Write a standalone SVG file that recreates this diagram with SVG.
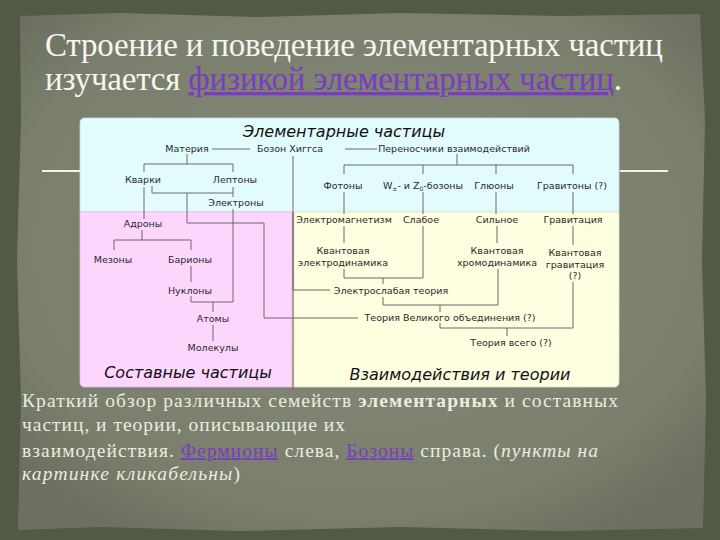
<svg xmlns="http://www.w3.org/2000/svg" width="720" height="540" viewBox="0 0 720 540">
<defs>
<radialGradient id="pg" cx="0.5" cy="0.45" r="0.65">
<stop offset="0" stop-color="#868a7a"/>
<stop offset="0.8" stop-color="#7a7e6d"/>
<stop offset="1" stop-color="#6c7060"/>
</radialGradient>
<style>
.t{font-family:"DejaVu Sans",sans-serif;font-size:9.5px;fill:#2a2a2a;text-anchor:middle}
.h{font-family:"DejaVu Sans",sans-serif;font-size:16px;font-style:italic;fill:#111;text-anchor:middle}
.ln{stroke:#6a6a6a;stroke-width:1;fill:none}
.ttl{font-family:"Liberation Serif",serif;font-size:33px;fill:#f6f6ee}
.cap{font-family:"Liberation Serif",serif;font-size:19.5px;fill:#ececdf}
.lk{fill:#7a3cc0;text-decoration:underline}
</style>
</defs>
<g id="background">
<rect x="0" y="0" width="720" height="540" fill="#525947"/>
<polygon points="20,16 120,13 260,17 400,13 560,16 700,14 705,120 702,260 706,400 703,528 560,531 400,527 240,531 100,527 18,530 21,400 17,260 21,120" fill="url(#pg)"/>
<line x1="42" y1="171" x2="80" y2="171" stroke="#f2f2e4" stroke-width="2"/>
<line x1="620" y1="171" x2="668" y2="171" stroke="#f2f2e4" stroke-width="2"/>
</g>
<g id="title">
<text class="ttl" x="45" y="56" textLength="618" lengthAdjust="spacing">Строение и поведение элементарных частиц</text>
<text class="ttl" x="45" y="90" textLength="577" lengthAdjust="spacing">изучается <tspan class="lk">физикой элементарных частиц</tspan>.</text>
</g>
<g id="regions">
<path d="M85,118 H614 Q619,118 619,123 V212 H80 V123 Q80,118 85,118 Z" fill="#e2fbfd" stroke="#c8dfe2" stroke-width="0.8"/>
<path d="M80,212 H292 V387 H85 Q80,387 80,382 Z" fill="#fdd6fd" stroke="#e3bde3" stroke-width="0.8"/>
<path d="M294,212 H619 V382 Q619,387 614,387 H294 Z" fill="#fefee0" stroke="#e2e2c4" stroke-width="0.8"/>
</g>
<g id="connectors">
<path class="ln" d="M212,149 H250 M345,149 H377"/>
<path class="ln" d="M187,154 V164 M144,172 V164 H233 V172"/>
<path class="ln" d="M144,187 V219 M152,186 V193 H233 M233,187 V197 M233,209 V302"/>
<path class="ln" d="M187,193 V223 H264 V318 H358"/>
<path class="ln" d="M293,156 V290 H330"/>
<path class="ln" d="M142,230 V240 M114,250 V240 H191 V250 M191,266 V282 M191,296 V302 H233 M213,302 V312 M213,325 V341"/>
<path class="ln" d="M457,154 V165 M344,174 V165 H573 V174 M423,165 V174 M496,165 V174"/>
<path class="ln" d="M344,192 V214 M423,192 V214 M496,192 V214 M573,192 V214"/>
<path class="ln" d="M344,226 V243 M344,269 V278 H423 V226 M383,278 V284"/>
<path class="ln" d="M497,226 V243 M573,226 V245"/>
<path class="ln" d="M383,297 V305 H498 V269 M440,305 V312"/>
<path class="ln" d="M573,282 V328 H440 V323 M507,328 V336"/>
</g>
<g id="headings">
<text class="h" x="344" y="137">Элементарные частицы</text>
<text class="h" x="188" y="378">Составные частицы</text>
<text class="h" x="460" y="380">Взаимодействия и теории</text>
</g>
<g id="n-materia"><text class="t" x="187" y="152">Материя</text></g>
<g id="n-higgs"><text class="t" x="290" y="152">Бозон Хиггса</text></g>
<g id="n-carriers"><text class="t" x="454" y="152">Переносчики взаимодействий</text></g>
<g id="n-quarks"><text class="t" x="143" y="183">Кварки</text></g>
<g id="n-leptons"><text class="t" x="235" y="183">Лептоны</text></g>
<g id="n-electrons"><text class="t" x="236" y="206">Электроны</text></g>
<g id="n-photons"><text class="t" x="343" y="189">Фотоны</text></g>
<g id="n-wz"><text class="t" x="423" y="189">W<tspan font-size="6" dy="2">±</tspan><tspan dy="-2">- и Z</tspan><tspan font-size="6" dy="2">0</tspan><tspan dy="-2">-бозоны</tspan></text></g>
<g id="n-gluons"><text class="t" x="494" y="189">Глюоны</text></g>
<g id="n-gravitons"><text class="t" x="572" y="189">Гравитоны (?)</text></g>
<g id="n-hadrons"><text class="t" x="143" y="227">Адроны</text></g>
<g id="n-mesons"><text class="t" x="113" y="263">Мезоны</text></g>
<g id="n-baryons"><text class="t" x="190" y="263">Барионы</text></g>
<g id="n-nucleons"><text class="t" x="190" y="294">Нуклоны</text></g>
<g id="n-atoms"><text class="t" x="213" y="322">Атомы</text></g>
<g id="n-molecules"><text class="t" x="213" y="351">Молекулы</text></g>
<g id="n-em"><text class="t" x="344" y="223">Электромагнетизм</text></g>
<g id="n-weak"><text class="t" x="421" y="223">Слабое</text></g>
<g id="n-strong"><text class="t" x="497" y="223">Сильное</text></g>
<g id="n-gravity"><text class="t" x="573" y="223">Гравитация</text></g>
<g id="n-qed"><text class="t" x="343" y="254">Квантовая</text><text class="t" x="343" y="266">электродинамика</text></g>
<g id="n-qcd"><text class="t" x="497" y="254">Квантовая</text><text class="t" x="497" y="266">хромодинамика</text></g>
<g id="n-qg"><text class="t" x="575" y="256">Квантовая</text><text class="t" x="575" y="268">гравитация</text><text class="t" x="575" y="279">(?)</text></g>
<g id="n-ew"><text class="t" x="391" y="294">Электрослабая теория</text></g>
<g id="n-gut"><text class="t" x="450" y="321">Теория Великого объединения (?)</text></g>
<g id="n-toe"><text class="t" x="511" y="346">Теория всего (?)</text></g>
<g id="caption">
<text class="cap" x="22" y="407" textLength="596" lengthAdjust="spacing">Краткий обзор различных семейств <tspan font-weight="bold">элементарных</tspan> и составных</text>
<text class="cap" x="22" y="431" textLength="323" lengthAdjust="spacing">частиц, и теории, описывающие их</text>
<text class="cap" x="22" y="457" textLength="576" lengthAdjust="spacing">взаимодействия. <tspan class="lk">Фермионы</tspan> слева, <tspan class="lk">Бозоны</tspan> справа. (<tspan font-style="italic">пункты на</tspan></text>
<text class="cap" x="22" y="480" textLength="218" lengthAdjust="spacing"><tspan font-style="italic">картинке кликабельны</tspan>)</text>
</g>
</svg>
